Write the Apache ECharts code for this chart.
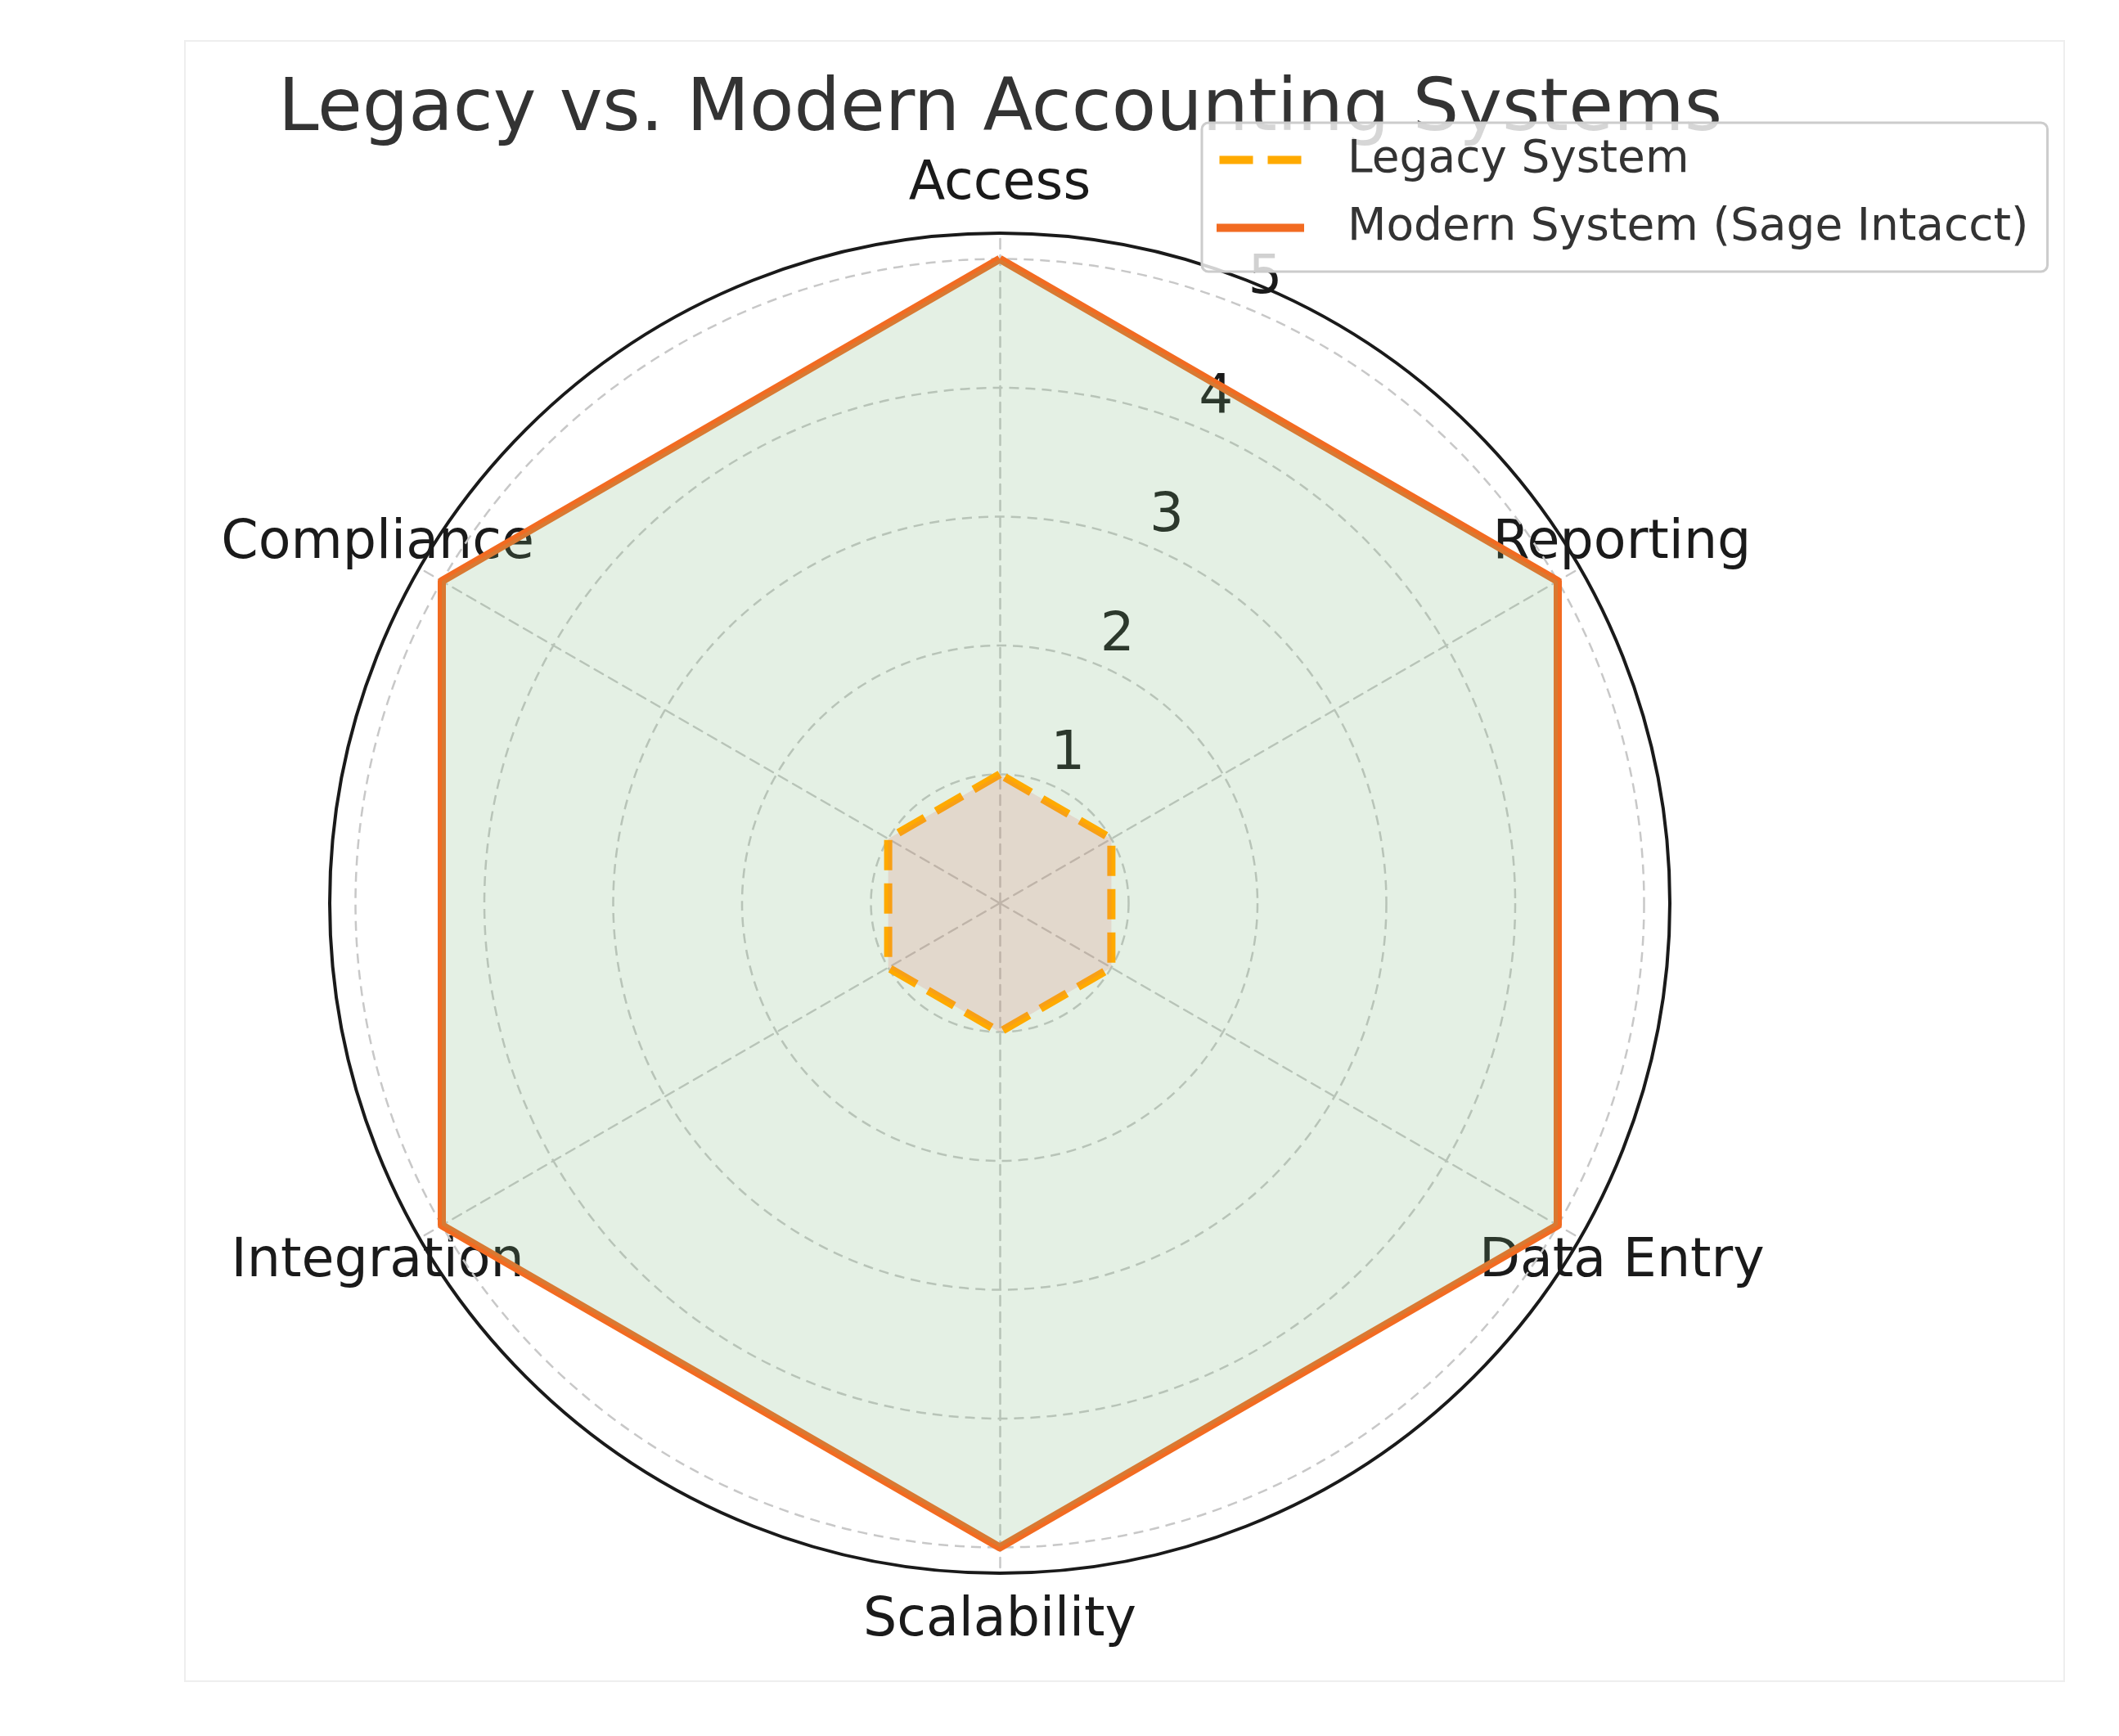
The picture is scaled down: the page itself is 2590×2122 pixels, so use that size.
<!DOCTYPE html>
<html lang="en">
<head>
    <meta charset="UTF-8">
    <title>Legacy vs. Modern Accounting Systems</title>
    <script src="https://cdn.jsdelivr.net/npm/echarts@6/dist/echarts.min.js"></script>
    <style>
        html, body {
            margin: 0;
            padding: 0;
            background: #fff;
        }
        #chart {
            width: 2590px;
            height: 2122px;
        }
    </style>
</head>
<body>
<div id="chart"></div>
<script>
    var categories = ['Access', 'Reporting', 'Data Entry', 'Scalability', 'Integration', 'Compliance'];
    var legacyScores = [1, 1, 1, 1, 1, 1];
    var modernScores = [5, 5, 5, 5, 5, 5];
    var radialTicks = [1, 2, 3, 4, 5];
    var seriesNames = ['Legacy System', 'Modern System (Sage Intacct)'];
    var rMax = 5.2;

    var FONT = 'DejaVu Sans';
    var center = [1222, 1104];
    var radius = 819;
    var legacyColor = '#ffaa00';
    var modernColor = '#f26b21';

    // radar goes counter-clockwise, the picture goes clockwise from the top
    function toCcw(arr) {
        return [arr[0]].concat(arr.slice(1).reverse());
    }

    var option = {
        backgroundColor: '#ffffff',
        animation: false,
        graphic: [{
            type: 'rect',
            z: -10,
            shape: {x: 226, y: 50, width: 2297, height: 2005},
            style: {fill: 'none', stroke: '#eeeeee', lineWidth: 2}
        }],
        title: {
            text: 'Legacy vs. Modern Accounting Systems',
            left: 340,
            top: 91,
            padding: 0,
            z: 2,
            textStyle: {fontFamily: FONT, fontSize: 89, fontWeight: 'normal', color: '#333333'}
        },
        legend: {
            orient: 'vertical',
            left: 1469,
            top: 150,
            z: 20,
            padding: [18, 23, 26, 18],
            backgroundColor: 'rgba(255,255,255,0.8)',
            borderColor: '#cccccc',
            borderWidth: 3,
            borderRadius: 8,
            itemWidth: 107,
            itemHeight: 10,
            itemGap: 28,
            textStyle: {fontFamily: FONT, fontSize: 55, lineHeight: 55, color: '#333333', padding: [0, 0, 0, 48]},
            data: [
                {name: seriesNames[0], icon: 'path://M0,0h41v10h-41z M59,0h41v10h-41z', itemStyle: {color: legacyColor, borderWidth: 0}},
                {name: seriesNames[1], icon: 'rect', itemStyle: {color: modernColor, borderWidth: 0}}
            ]
        },
        polar: {center: center, radius: radius},
        angleAxis: {
            type: 'value',
            min: 0,
            max: 360,
            startAngle: 67.5,
            axisLine: {show: true, lineStyle: {color: '#1a1a1a', width: 4}},
            axisTick: {show: false},
            axisLabel: {show: false},
            splitLine: {show: false}
        },
        radiusAxis: {
            type: 'value',
            min: 0,
            max: rMax,
            interval: 1,
            z: 1,
            axisLine: {show: false},
            axisTick: {show: false},
            axisLabel: {
                margin: -25,
                align: 'center',
                verticalAlign: 'bottom',
                lineHeight: 90,
                fontFamily: FONT,
                fontSize: 66,
                color: '#1a1a1a',
                formatter: function (v) {
                    return radialTicks.indexOf(v) >= 0 ? String(v) : '';
                }
            },
            splitLine: {
                show: true,
                lineStyle: {
                    color: ['#c8c8c8', '#c8c8c8', '#c8c8c8', '#c8c8c8', '#c8c8c8', '#c8c8c8', 'rgba(0,0,0,0)'],
                    type: [12, 8],
                    width: 2.5
                }
            }
        },
        radar: {
            center: center,
            radius: radius,
            startAngle: 90,
            shape: 'circle',
            splitNumber: 1,
            nameGap: 59,
            indicator: toCcw(categories).map(function (n) {
                return {name: n, min: 0, max: rMax};
            }),
            axisName: {color: '#1a1a1a', fontFamily: FONT, fontSize: 65, align: 'center', verticalAlign: 'middle'},
            splitLine: {show: false},
            splitArea: {show: false},
            axisTick: {show: false},
            axisLabel: {show: false},
            axisLine: {lineStyle: {color: '#c8c8c8', type: [12, 8], width: 2.5}}
        },
        series: [
            {
                type: 'radar',
                name: seriesNames[1],
                symbol: 'none',
                z: 3,
                data: [{
                    name: seriesNames[1],
                    value: toCcw(modernScores),
                    itemStyle: {color: modernColor},
                    lineStyle: {color: modernColor, width: 10},
                    areaStyle: {color: 'rgba(120,180,120,0.2)', opacity: 1}
                }]
            },
            {
                type: 'radar',
                name: seriesNames[0],
                symbol: 'none',
                z: 4,
                data: [{
                    name: seriesNames[0],
                    value: toCcw(legacyScores),
                    itemStyle: {color: legacyColor},
                    lineStyle: {color: legacyColor, width: 10, type: [37, 16]},
                    areaStyle: {color: 'rgba(218,120,110,0.2)', opacity: 1}
                }]
            }
        ]
    };

    var myChart = echarts.init(document.getElementById('chart'));
    myChart.setOption(option);
</script>
</body>
</html>
